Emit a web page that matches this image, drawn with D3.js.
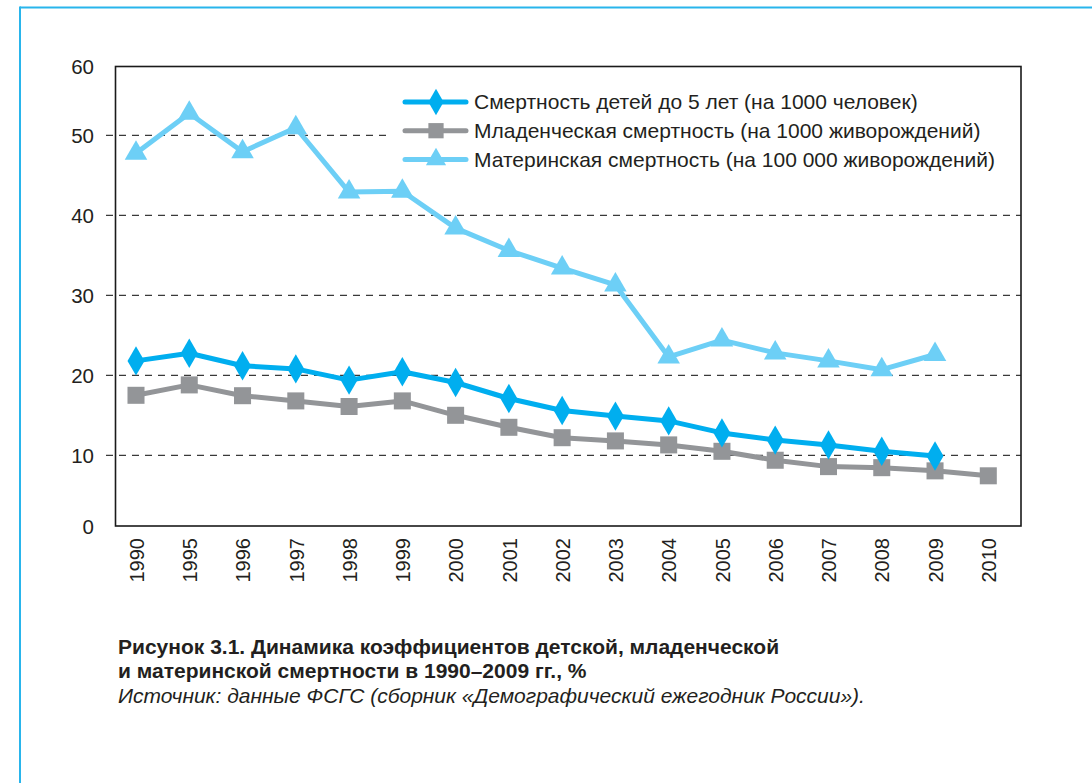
<!DOCTYPE html>
<html><head><meta charset="utf-8">
<script src="https://cdn.jsdelivr.net/npm/d3@7"></script>
<style>
html,body{margin:0;padding:0;background:#fff;}
svg{display:block;}
text{font-family:"Liberation Sans",Arial,sans-serif;fill:#231f20;}
.cap{font-family:"Liberation Sans Narrow","Liberation Sans",Arial,sans-serif;}
</style></head>
<body>
<svg id="chart" width="1092" height="783"></svg>
<script>
const years = ['1990','1995','1996','1997','1998','1999','2000','2001','2002','2003','2004','2005','2006','2007','2008','2009','2010'];
const childMort = [21.8, 22.75, 21.2, 20.8, 19.4, 20.45, 19.1, 17.1, 15.6, 14.9, 14.3, 12.8, 11.9, 11.3, 10.5, 9.9, null];
const infantMort = [17.5, 18.8, 17.45, 16.8, 16.1, 16.8, 15.0, 13.5, 12.2, 11.8, 11.3, 10.5, 9.3, 8.4, 8.25, 7.8, 7.1];
const maternalMort = [47.75, 53.2, 47.95, 51.1, 42.9, 43.0, 38.4, 35.6, 33.4, 31.3, 22.3, 24.4, 22.8, 21.8, 20.7, 22.6, null];
const yTicks = [0, 10, 20, 30, 40, 50, 60];
const gridValues = [10, 20, 30, 40, 50];
const seriesNames = [
  'Смертность детей до 5 лет (на 1000 человек)',
  'Младенческая смертность (на 1000 живорождений)',
  'Материнская смертность (на 100 000 живорождений)'
];
const captionLines = [
  'Рисунок 3.1. Динамика коэффициентов детской, младенческой',
  'и материнской смертности в 1990–2009 гг., %'
];
const sourceLine = 'Источник: данные ФСГС (сборник «Демографический ежегодник России»).';

const svg = d3.select('#chart');
const plot = {left: 115.5, right: 1021, top: 66.5, bottom: 526};

// page frame
svg.append('line').attr('x1', 20).attr('x2', 1092).attr('y1', 7.5).attr('y2', 7.5)
  .attr('stroke', '#29b5ec').attr('stroke-width', 2);
svg.append('line').attr('x1', 20).attr('x2', 20).attr('y1', 6.5).attr('y2', 783)
  .attr('stroke', '#29b5ec').attr('stroke-width', 2);

const x = d3.scalePoint().domain(years).range([136, 988.3]);
const y = d3.scaleLinear().domain([0, 10, 50, 60]).range([plot.bottom, 455.3, 135.3, plot.top]);

// gridlines
svg.append('g').selectAll('line').data(gridValues).join('line')
  .attr('x1', 106).attr('x2', plot.right)
  .attr('y1', d => y(d)).attr('y2', d => y(d))
  .attr('stroke', '#3a3a3a').attr('stroke-width', 1.2)
  .attr('stroke-dasharray', '7,6');

// y axis labels
const yAxis = d3.axisLeft(y).tickValues(yTicks).tickSize(0).tickPadding(0).tickFormat(d3.format('d'));
const gy = svg.append('g').attr('transform', 'translate(94,0)').call(yAxis);
gy.select('.domain').remove();
gy.selectAll('text').attr('font-size', 20.5).attr('fill', '#231f20')
  .style('font-family', '"Liberation Sans",Arial,sans-serif').attr('dy', '0.35em');

// x axis labels
const xAxis = d3.axisBottom(x).tickSize(0).tickPadding(0);
const gx = svg.append('g').attr('transform', `translate(0,${plot.bottom})`).call(xAxis);
gx.select('.domain').remove();
gx.selectAll('text').attr('font-size', 20).attr('fill', '#231f20')
  .style('font-family', '"Liberation Sans",Arial,sans-serif')
  .attr('transform', 'rotate(-90)')
  .attr('text-anchor', 'end')
  .attr('x', -12).attr('y', 0).attr('dy', '0.36em');

// legend background (covers part of the 50 gridline)
svg.append('rect').attr('x', 390).attr('y', 84).attr('width', plot.right - 390).attr('height', 92)
  .attr('fill', '#fff');

// plot frame
svg.append('rect').attr('x', plot.left).attr('y', plot.top)
  .attr('width', plot.right - plot.left).attr('height', plot.bottom - plot.top)
  .attr('fill', 'none').attr('stroke', '#1a1a1a').attr('stroke-width', 1.6);

const series = [
  {name: seriesNames[2], values: maternalMort, color: '#6dcff6', shape: d3.symbolTriangle, size: 220},
  {name: seriesNames[1], values: infantMort, color: '#939598', shape: d3.symbolSquare, size: 290},
  {name: seriesNames[0], values: childMort, color: '#00aeef', shape: d3.symbolDiamond, size: 250}
];

const line = d3.line().defined(d => d.v != null).x(d => x(d.k)).y(d => y(d.v));
series.forEach(s => {
  const pts = years.map((k, i) => ({k, v: s.values[i]}));
  svg.append('path').datum(pts).attr('d', line)
    .attr('fill', 'none').attr('stroke', s.color).attr('stroke-width', 5)
    .attr('stroke-linejoin', 'round');
  svg.append('g').selectAll('path').data(pts.filter(d => d.v != null)).join('path')
    .attr('transform', d => `translate(${x(d.k)},${y(d.v)})`)
    .attr('d', d3.symbol().type(s.shape).size(s.size))
    .attr('fill', s.color);
});

// legend
const legendItems = [series[2], series[1], series[0]];
const lg = svg.append('g');
legendItems.forEach((s, i) => {
  const yy = 102 + i * 28.7;
  lg.append('line').attr('x1', 405).attr('x2', 466).attr('y1', yy).attr('y2', yy)
    .attr('stroke', s.color).attr('stroke-width', 5).attr('stroke-linecap', 'round');
  lg.append('path').attr('transform', `translate(436,${yy})`)
    .attr('d', d3.symbol().type(s.shape).size(s.size * 0.8)).attr('fill', s.color);
  lg.append('text').attr('x', 474).attr('y', yy).attr('dy', '0.35em')
    .attr('font-size', 21).text(s.name);
});

// caption
captionLines.forEach((t, i) => {
  svg.append('text').attr('class', 'cap').attr('x', 118).attr('y', 654 + i * 24)
    .attr('font-size', 21).attr('font-weight', 'bold').text(t);
});
svg.append('text').attr('class', 'cap').attr('x', 118).attr('y', 703)
  .attr('font-size', 21).attr('font-style', 'italic').text(sourceLine);
</script>
</body></html>
